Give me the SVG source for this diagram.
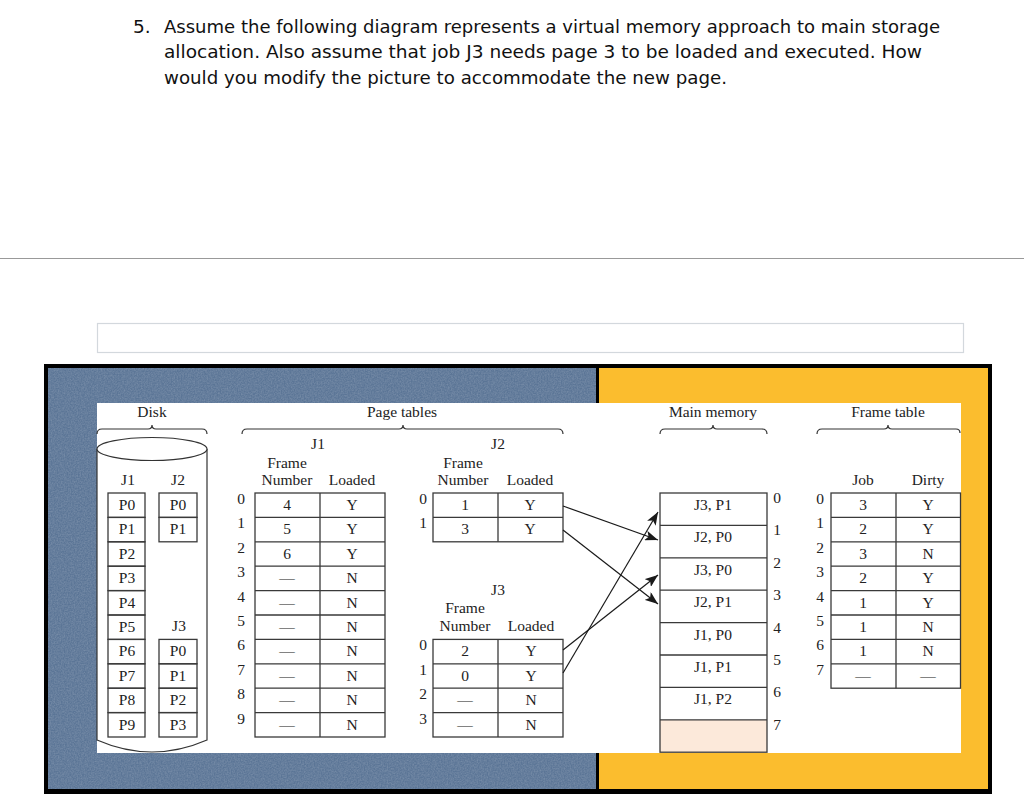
<svg xmlns="http://www.w3.org/2000/svg" width="1024" height="811" viewBox="0 0 1024 811">
<defs>
<style>
.hd{font-family:"DejaVu Sans","Liberation Sans",sans-serif;font-size:18.5px;fill:#111}
.t{font-family:"Liberation Serif","Times New Roman",serif;font-size:15.5px;fill:#222;text-anchor:middle}
.cell{fill:none;stroke:#3a3a3a;stroke-width:1.3}
.brace{fill:none;stroke:#333;stroke-width:1.2}
.conn{fill:none;stroke:#1a1a1a;stroke-width:1.2;marker-end:url(#ah)}
</style>
<marker id="ah" markerUnits="userSpaceOnUse" markerWidth="14" markerHeight="10" refX="13" refY="5" orient="auto">
<path d="M0,0 L13,5 L0,10 L3,5 Z" fill="#1a1a1a"/>
</marker>
<filter id="noise" x="0" y="0" width="100%" height="100%">
<feTurbulence type="fractalNoise" baseFrequency="0.7" numOctaves="2" seed="4"/>
<feColorMatrix type="matrix" values="0 0 0 0 1 0 0 0 0 1 0 0 0 0 1 0.45 0 0 0 -0.12"/>
</filter>
</defs>
<rect x="0" y="0" width="1024" height="811" fill="#ffffff"/>

<g id="question">
<text class="hd" x="133" y="33">5.</text>
<text class="hd" x="164" y="33" textLength="776" lengthAdjust="spacingAndGlyphs">Assume the following diagram represents a virtual memory approach to main storage</text>
<text class="hd" x="164" y="58" textLength="758" lengthAdjust="spacingAndGlyphs">allocation.  Also assume that job J3 needs page 3 to be loaded and executed.  How</text>
<text class="hd" x="164" y="84" textLength="563" lengthAdjust="spacingAndGlyphs">would you modify the picture to accommodate the new page.</text>
</g>

<line x1="0" y1="258.5" x2="1024" y2="258.5" stroke="#999" stroke-width="1"/>
<rect x="97.5" y="323.5" width="866" height="29" fill="#fff" stroke="#d3d8dd" stroke-width="1.2"/>

<g id="frame">
<rect x="44" y="364" width="948" height="430" fill="#000"/>
<rect x="48" y="368" width="548" height="421" fill="#5b7596"/>
<rect x="48" y="368" width="548" height="421" filter="url(#noise)" opacity="0.6"/>
<rect x="599" y="368" width="389" height="421" fill="#fbbd2e"/>
<rect x="97" y="403" width="864" height="350" fill="#ffffff"/>
</g>

<g id="disk">
<text class="t" x="152" y="417">Disk</text>
<path class="brace" d="M97,434 Q97,429 102,429 L148,429 Q152,429 152,425 Q152,429 156,429 L202,429 Q207,429 207,434"/>
<path d="M97,449 L97,740 Q152,764 207,740 L207,449" fill="#fff" stroke="#333" stroke-width="1.2"/>
<ellipse cx="152" cy="449" rx="55" ry="11.5" fill="#fff" stroke="#333" stroke-width="1.2"/>
<text class="t" x="128" y="485">J1</text>
<text class="t" x="178" y="485">J2</text>
<text class="t" x="179" y="631">J3</text>
<g>
<rect class="cell" x="108" y="493" width="37" height="24.4"/>
<rect class="cell" x="108" y="517.4" width="37" height="24.4"/>
<rect class="cell" x="108" y="541.8" width="37" height="24.4"/>
<rect class="cell" x="108" y="566.2" width="37" height="24.4"/>
<rect class="cell" x="108" y="590.6" width="37" height="24.4"/>
<rect class="cell" x="108" y="615" width="37" height="24.4"/>
<rect class="cell" x="108" y="639.4" width="37" height="24.4"/>
<rect class="cell" x="108" y="663.8" width="37" height="24.4"/>
<rect class="cell" x="108" y="688.2" width="37" height="24.4"/>
<rect class="cell" x="108" y="712.6" width="37" height="24.4"/>
<text class="t" x="127" y="510">P0</text>
<text class="t" x="127" y="534.4">P1</text>
<text class="t" x="127" y="558.8">P2</text>
<text class="t" x="127" y="583.2">P3</text>
<text class="t" x="127" y="607.6">P4</text>
<text class="t" x="127" y="632">P5</text>
<text class="t" x="127" y="656.4">P6</text>
<text class="t" x="127" y="680.8">P7</text>
<text class="t" x="127" y="705.2">P8</text>
<text class="t" x="127" y="729.6">P9</text>
</g>
<g>
<rect class="cell" x="159" y="493" width="38" height="24.4"/>
<rect class="cell" x="159" y="517.4" width="38" height="24.4"/>
<text class="t" x="178" y="510">P0</text>
<text class="t" x="178" y="534.4">P1</text>
</g>
<g>
<rect class="cell" x="159" y="639.4" width="38" height="24.4"/>
<rect class="cell" x="159" y="663.8" width="38" height="24.4"/>
<rect class="cell" x="159" y="688.2" width="38" height="24.4"/>
<rect class="cell" x="159" y="712.6" width="38" height="24.4"/>
<text class="t" x="178" y="656.4">P0</text>
<text class="t" x="178" y="680.8">P1</text>
<text class="t" x="178" y="705.2">P2</text>
<text class="t" x="178" y="729.6">P3</text>
</g>
</g>

<g id="page-tables-label">
<text class="t" x="402" y="417">Page tables</text>
<path class="brace" d="M242,434 Q242,429 247,429 L399,429 Q403,429 403,425 Q403,429 407,429 L558,429 Q563,429 563,434"/>
</g>

<g id="pt-j1">
<text class="t" x="318" y="449">J1</text>
<text class="t" x="287" y="468">Frame</text>
<text class="t" x="287" y="485">Number</text>
<text class="t" x="352" y="485">Loaded</text>
<rect class="cell" x="255" y="493" width="130" height="244"/>
<line class="cell" x1="320" y1="493" x2="320" y2="737"/>
<path class="cell" d="M255,517.4H385M255,541.8H385M255,566.2H385M255,590.6H385M255,615H385M255,639.4H385M255,663.8H385M255,688.2H385M255,712.6H385"/>
<text class="t" x="241" y="504">0</text>
<text class="t" x="241" y="528.4">1</text>
<text class="t" x="241" y="552.8">2</text>
<text class="t" x="241" y="577.2">3</text>
<text class="t" x="241" y="601.6">4</text>
<text class="t" x="241" y="626">5</text>
<text class="t" x="241" y="650.4">6</text>
<text class="t" x="241" y="674.8">7</text>
<text class="t" x="241" y="699.2">8</text>
<text class="t" x="241" y="723.6">9</text>
<text class="t" x="287" y="510">4</text>
<text class="t" x="287" y="534.4">5</text>
<text class="t" x="287" y="558.8">6</text>
<text class="t" x="287" y="583.2">—</text>
<text class="t" x="287" y="607.6">—</text>
<text class="t" x="287" y="632">—</text>
<text class="t" x="287" y="656.4">—</text>
<text class="t" x="287" y="680.8">—</text>
<text class="t" x="287" y="705.2">—</text>
<text class="t" x="287" y="729.6">—</text>
<text class="t" x="352" y="510">Y</text>
<text class="t" x="352" y="534.4">Y</text>
<text class="t" x="352" y="558.8">Y</text>
<text class="t" x="352" y="583.2">N</text>
<text class="t" x="352" y="607.6">N</text>
<text class="t" x="352" y="632">N</text>
<text class="t" x="352" y="656.4">N</text>
<text class="t" x="352" y="680.8">N</text>
<text class="t" x="352" y="705.2">N</text>
<text class="t" x="352" y="729.6">N</text>
</g>

<g id="pt-j2">
<text class="t" x="498" y="449">J2</text>
<text class="t" x="463" y="468">Frame</text>
<text class="t" x="463" y="485">Number</text>
<text class="t" x="530" y="485">Loaded</text>
<rect class="cell" x="433" y="493" width="130" height="48.8"/>
<line class="cell" x1="498" y1="493" x2="498" y2="541.8"/>
<line class="cell" x1="433" y1="517.4" x2="563" y2="517.4"/>
<text class="t" x="423" y="504">0</text>
<text class="t" x="423" y="528.4">1</text>
<text class="t" x="465" y="510">1</text>
<text class="t" x="465" y="534.4">3</text>
<text class="t" x="530" y="510">Y</text>
<text class="t" x="530" y="534.4">Y</text>
</g>

<g id="pt-j3">
<text class="t" x="498" y="595">J3</text>
<text class="t" x="465" y="613">Frame</text>
<text class="t" x="465" y="631">Number</text>
<text class="t" x="531" y="631">Loaded</text>
<rect class="cell" x="433" y="639.4" width="130" height="97.6"/>
<line class="cell" x1="498" y1="639.4" x2="498" y2="737"/>
<path class="cell" d="M433,663.8H563M433,688.2H563M433,712.6H563"/>
<text class="t" x="423" y="650.4">0</text>
<text class="t" x="423" y="674.8">1</text>
<text class="t" x="423" y="699.2">2</text>
<text class="t" x="423" y="723.6">3</text>
<text class="t" x="465" y="656.4">2</text>
<text class="t" x="465" y="680.8">0</text>
<text class="t" x="465" y="705.2">—</text>
<text class="t" x="465" y="729.6">—</text>
<text class="t" x="531" y="656.4">Y</text>
<text class="t" x="531" y="680.8">Y</text>
<text class="t" x="531" y="705.2">N</text>
<text class="t" x="531" y="729.6">N</text>
</g>

<g id="main-memory">
<text class="t" x="713" y="417">Main memory</text>
<path class="brace" d="M660,434 Q660,429 665,429 L709,429 Q713,429 713,425 Q713,429 717,429 L762,429 Q767,429 767,434"/>
<rect x="660" y="719.8" width="107" height="32.4" fill="#fce9da"/>
<rect class="cell" x="660" y="493" width="107" height="259.2"/>
<path class="cell" d="M660,525.4H767M660,557.8H767M660,590.2H767M660,622.6H767M660,655H767M660,687.4H767M660,719.8H767"/>
<text class="t" x="713" y="510">J3, P1</text>
<text class="t" x="713" y="542.4">J2, P0</text>
<text class="t" x="713" y="574.8">J3, P0</text>
<text class="t" x="713" y="607.2">J2, P1</text>
<text class="t" x="713" y="639.6">J1, P0</text>
<text class="t" x="713" y="672">J1, P1</text>
<text class="t" x="713" y="704.4">J1, P2</text>
<text class="t" x="777" y="503">0</text>
<text class="t" x="777" y="535.4">1</text>
<text class="t" x="777" y="567.8">2</text>
<text class="t" x="777" y="600.2">3</text>
<text class="t" x="777" y="632.6">4</text>
<text class="t" x="777" y="665">5</text>
<text class="t" x="777" y="697.4">6</text>
<text class="t" x="777" y="729.8">7</text>
</g>

<g id="frame-table">
<text class="t" x="888" y="417">Frame table</text>
<path class="brace" d="M817,434 Q817,429 822,429 L884,429 Q888,429 888,425 Q888,429 892,429 L956,429 Q960,429 960,433"/>
<text class="t" x="863" y="485">Job</text>
<text class="t" x="928" y="485">Dirty</text>
<rect class="cell" x="831" y="493" width="129.5" height="195.2"/>
<line class="cell" x1="896" y1="493" x2="896" y2="688.2"/>
<path class="cell" d="M831,517.4H961M831,541.8H961M831,566.2H961M831,590.6H961M831,615H961M831,639.4H961M831,663.8H961"/>
<text class="t" x="820" y="504">0</text>
<text class="t" x="820" y="528.4">1</text>
<text class="t" x="820" y="552.8">2</text>
<text class="t" x="820" y="577.2">3</text>
<text class="t" x="820" y="601.6">4</text>
<text class="t" x="820" y="626">5</text>
<text class="t" x="820" y="650.4">6</text>
<text class="t" x="820" y="674.8">7</text>
<text class="t" x="863" y="510">3</text>
<text class="t" x="863" y="534.4">2</text>
<text class="t" x="863" y="558.8">3</text>
<text class="t" x="863" y="583.2">2</text>
<text class="t" x="863" y="607.6">1</text>
<text class="t" x="863" y="632">1</text>
<text class="t" x="863" y="656.4">1</text>
<text class="t" x="863" y="680.8">—</text>
<text class="t" x="928" y="510">Y</text>
<text class="t" x="928" y="534.4">Y</text>
<text class="t" x="928" y="558.8">N</text>
<text class="t" x="928" y="583.2">Y</text>
<text class="t" x="928" y="607.6">Y</text>
<text class="t" x="928" y="632">N</text>
<text class="t" x="928" y="656.4">N</text>
<text class="t" x="928" y="680.8">—</text>
</g>

<g id="connectors">
<line class="conn" x1="563" y1="506" x2="658" y2="540"/>
<line class="conn" x1="563" y1="530" x2="658" y2="604"/>
<line class="conn" x1="563" y1="650" x2="658" y2="575"/>
<line class="conn" x1="563" y1="673" x2="658" y2="512"/>
</g>
</svg>
